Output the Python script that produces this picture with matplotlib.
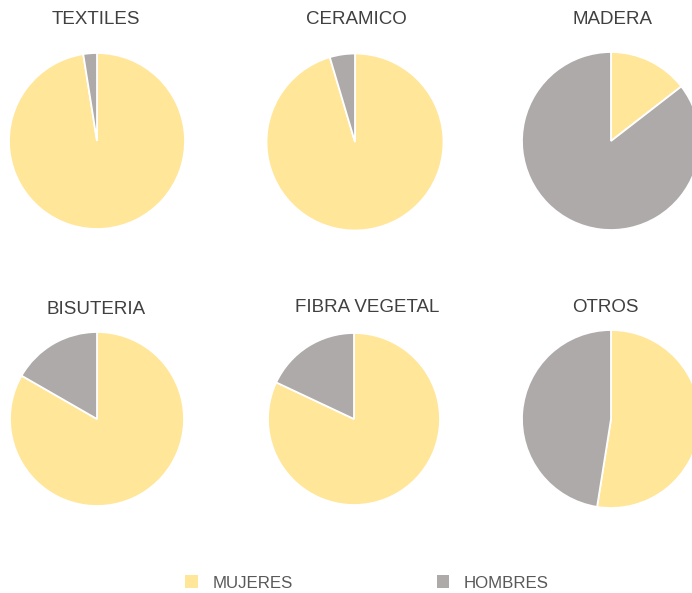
import matplotlib.pyplot as plt
from matplotlib.patches import Patch

categorias = ["TEXTILES", "CERAMICO", "MADERA", "BISUTERIA", "FIBRA VEGETAL", "OTROS"]
mujeres = [97.5, 95.4, 14.5, 83.3, 82.0, 52.5]
hombres = [2.5, 4.6, 85.5, 16.7, 18.0, 47.5]
series = ["MUJERES", "HOMBRES"]
colores = ["#FFE699", "#AEAAAA"]

plt.rcParams["font.family"] = ["Liberation Sans", "DejaVu Sans"]

W, H = 692, 593
fig = plt.figure(figsize=(W / 100, H / 100), dpi=100)

# pie centres / radii and title positions, in pixels from top-left
centros = [(97, 141, 88), (355, 142, 88.5), (611, 141, 89),
           (97, 419, 87), (354, 419, 86), (611, 419, 89)]
titulos = [(96, 20), (356, 20), (613, 20), (96, 310), (367, 307), (605, 307)]

for i, cat in enumerate(categorias):
    cx, cy, r = centros[i]
    ax = fig.add_axes([(cx - r) / W, 1 - (cy + r) / H, 2 * r / W, 2 * r / H])
    ax.pie([mujeres[i], hombres[i]], colors=colores, startangle=90,
           counterclock=False,
           wedgeprops=dict(edgecolor="white", linewidth=1.3))
    ax.set_xlim(-1.0, 1.0)
    ax.set_ylim(-1.0, 1.0)
    tx, ty = titulos[i]
    fig.text(tx / W, 1 - ty / H, cat, ha="center", va="center",
             fontsize=13.5, color="#404040")

handles = [Patch(facecolor=c, edgecolor="none") for c in colores]
fig.legend(handles, series, loc="center", bbox_to_anchor=(367 / W, 1 - 583 / H),
           ncol=2, frameon=False, fontsize=12.2, labelcolor="#595959",
           handlelength=0.75, handleheight=0.75, handletextpad=0.85,
           columnspacing=8.5)

fig.savefig("out.png", dpi=100)
